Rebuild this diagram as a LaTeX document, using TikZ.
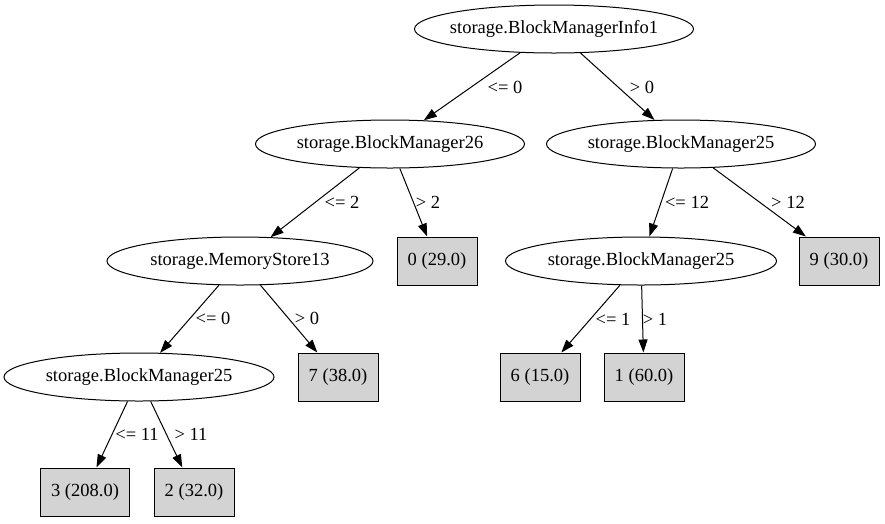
\documentclass[tikz,border=0pt]{standalone}
\usepackage{fontspec}
\setmainfont{Liberation Serif}
\usepackage{tikz}
\usetikzlibrary{arrows.meta,shapes}
\definecolor{leafgray}{HTML}{D3D3D3}
\tikzstyle{split} = [ellipse, draw, line width=1pt, inner sep=0pt, minimum width=269pt, minimum height=48pt]
\tikzstyle{leaf} = [rectangle, draw, line width=1pt, fill=leafgray, inner sep=0pt, minimum width=80pt, minimum height=48pt]
\tikzstyle{branch} = [-{Triangle[length=13pt,width=9pt]}, line width=1pt]
\tikzstyle{cond} = [inner sep=0pt]

\begin{document}
\begin{tikzpicture}[x=1pt, y=-1pt, font=\fontsize{18.5}{22}\selectfont]
    \useasboundingbox (0,0) rectangle (885,523);
    \node [split, inner xsep=-6pt, minimum width=279pt] (info1) at (554,29) {storage.BlockManagerInfo1};
    \node [split] (bm26) at (390,144) {storage.BlockManager26};
    \node [split] (bm25a) at (681,144) {storage.BlockManager25};
    \node [split, minimum width=266pt] (ms13) at (240,261) {storage.MemoryStore13};
    \node [leaf] (l0) at (437,261) {0 (29.0)};
    \node [split, minimum width=271pt] (bm25b) at (641,261) {storage.BlockManager25};
    \node [leaf] (l9) at (839,261) {9 (30.0)};
    \node [split, minimum width=270pt] (bm25c) at (139,377) {storage.BlockManager25};
    \node [leaf] (l7) at (338,377) {7 (38.0)};
    \node [leaf] (l6) at (540,377) {6 (15.0)};
    \node [leaf] (l1) at (644,377) {1 (60.0)};
    \node [leaf, minimum width=89pt] (l3) at (85,492) {3 (208.0)};
    \node [leaf] (l2) at (194,492) {2 (32.0)};

    % root
    \draw [branch] (info1) -- (bm26);
    \draw [branch] (info1) -- (bm25a);
    % left subtree
    \draw [branch] (bm26) -- (ms13);
    \draw [branch] (bm26) -- (l0);
    \draw [branch] (ms13) -- (bm25c);
    \draw [branch] (ms13) -- (l7);
    \draw [branch] (bm25c) -- (l3);
    \draw [branch] (bm25c) -- (l2);
    % right subtree
    \draw [branch] (bm25a) -- (bm25b);
    \draw [branch] (bm25a) -- (l9);
    \draw [branch] (bm25b) -- (l6);
    \draw [branch] (bm25b) -- (l1);

    % edge labels
    \node [cond] (c1) at (505,87) {<= 0};
    \node [cond] (c2) at (642,87) {> 0};
    \node [cond] (c3) at (342,202) {<= 2};
    \node [cond] (c4) at (428,202) {> 2};
    \node [cond] (c5) at (687,202) {<= 12};
    \node [cond] (c6) at (788,202) {> 12};
    \node [cond] (c7) at (213,318) {<= 0};
    \node [cond] (c8) at (307,318) {> 0};
    \node [cond] (c9) at (613,319) {<= 1};
    \node [cond] (c10) at (655,319) {> 1};
    \node [cond] (c11) at (137,434) {<= 11};
    \node [cond] (c12) at (191,434) {> 11};
\end{tikzpicture}
\end{document}
